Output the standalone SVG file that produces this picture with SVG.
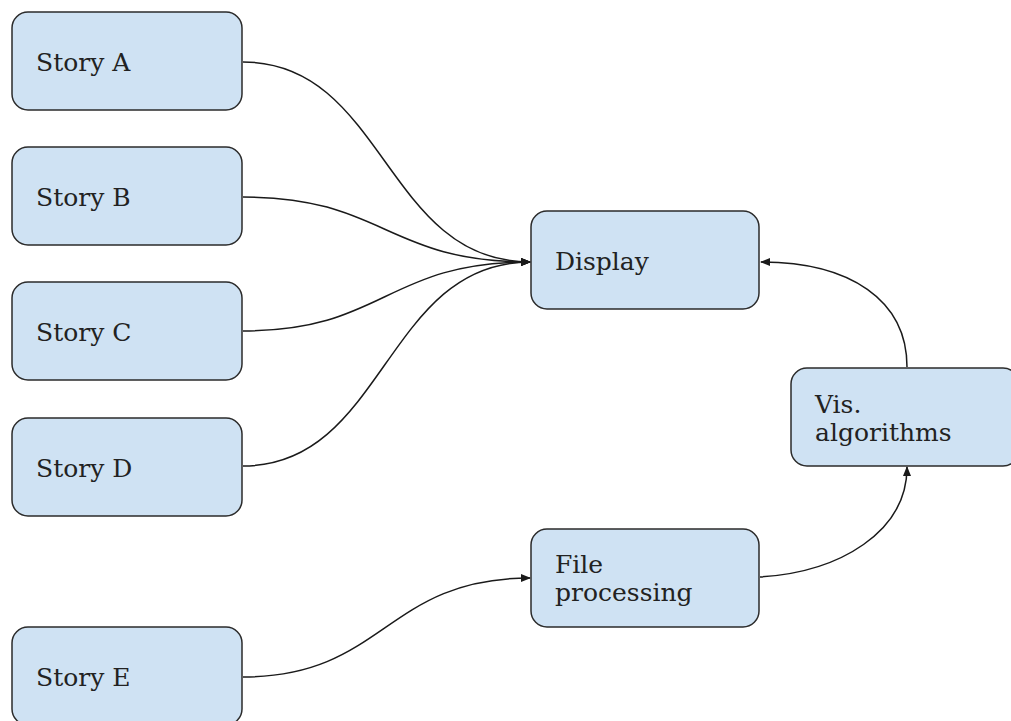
<svg xmlns="http://www.w3.org/2000/svg" width="1011" height="721" viewBox="0 0 1011 721">
  <style>
    .box { fill: #cfe2f3; stroke: #2b2b2b; stroke-width: 1.5; }
    .lbl { font-family: "DejaVu Serif", "Liberation Serif", serif; font-size: 25px; fill: #222; }
    .link { fill: none; stroke: #1a1a1a; stroke-width: 1.5; marker-end: url(#arrow); }
  </style>
  <defs>
    <marker id="arrow" viewBox="0 0 10 10" refX="9" refY="5" markerWidth="10" markerHeight="10" markerUnits="userSpaceOnUse" orient="auto">
      <path d="M0,1 L10,5 L0,9 Z" fill="#1a1a1a"/>
    </marker>
  </defs>
  <rect width="1011" height="721" fill="#ffffff"/>

  <g id="connectors">
    <path class="link" d="M243,62 C385,62 385,262 530,262"/>
    <path class="link" d="M243,197 C385,197 385,262 530,262"/>
    <path class="link" d="M243,331 C385,331 385,262 530,262"/>
    <path class="link" d="M243,466 C385,466 385,262 530,262"/>
    <path class="link" d="M243,677 C385,677 385,578 530,578"/>
    <path class="link" d="M760,577 C840,572 907,532 907,467"/>
    <path class="link" d="M907,367 C907,300 850,262 761,262"/>
  </g>

  <g id="story-a">
    <rect class="box" x="12" y="12" width="230" height="98" rx="16"/>
    <text class="lbl" x="36" y="71">Story A</text>
  </g>
  <g id="story-b">
    <rect class="box" x="12" y="147" width="230" height="98" rx="16"/>
    <text class="lbl" x="36" y="206">Story B</text>
  </g>
  <g id="story-c">
    <rect class="box" x="12" y="282" width="230" height="98" rx="16"/>
    <text class="lbl" x="36" y="341">Story C</text>
  </g>
  <g id="story-d">
    <rect class="box" x="12" y="418" width="230" height="98" rx="16"/>
    <text class="lbl" x="36" y="477">Story D</text>
  </g>
  <g id="story-e">
    <rect class="box" x="12" y="627" width="230" height="98" rx="16"/>
    <text class="lbl" x="36" y="686">Story E</text>
  </g>
  <g id="display">
    <rect class="box" x="531" y="211" width="228" height="98" rx="16"/>
    <text class="lbl" x="555" y="270">Display</text>
  </g>
  <g id="vis-algorithms">
    <rect class="box" x="791" y="368" width="228" height="98" rx="16"/>
    <text class="lbl" x="815" y="413">Vis.</text>
    <text class="lbl" x="815" y="441">algorithms</text>
  </g>
  <g id="file-processing">
    <rect class="box" x="531" y="529" width="228" height="98" rx="16"/>
    <text class="lbl" x="555" y="573">File</text>
    <text class="lbl" x="555" y="601">processing</text>
  </g>
</svg>
